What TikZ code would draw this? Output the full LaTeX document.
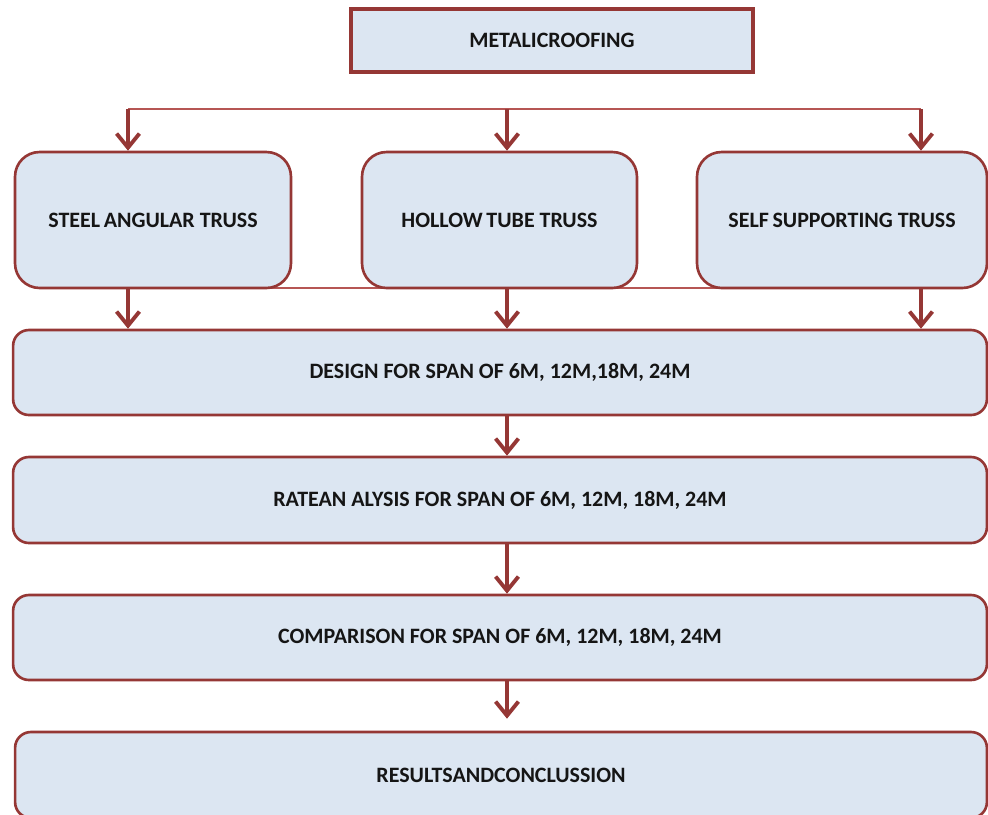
\documentclass[tikz,border=0pt]{standalone}
\usepackage{fontspec}
\setmainfont{Carlito}
\usetikzlibrary{arrows.meta}
\definecolor{boxred}{HTML}{953735}
\definecolor{busred}{HTML}{B65654}
\definecolor{boxfill}{HTML}{DCE6F2}
\definecolor{ink}{HTML}{151515}
\tikzset{
  topbox/.style={draw=boxred, fill=boxfill, line width=1.8pt, inner sep=0pt,
    text=ink, font=\fontsize{12.5}{14}\selectfont\bfseries},
  trussbox/.style={draw=boxred, fill=boxfill, line width=1.5pt, inner sep=0pt,
    rounded corners=14pt, text=ink, font=\fontsize{12.5}{14}\selectfont\bfseries},
  stepbox/.style={draw=boxred, fill=boxfill, line width=1.5pt, inner sep=0pt,
    rounded corners=9pt, text=ink, font=\fontsize{12.5}{14}\selectfont\bfseries},
  busline/.style={busred, line width=1.3pt},
  flowarrow/.style={boxred, line width=2.2pt, -{Straight Barb[length=8pt, width=13pt]}}
}

\begin{document}
\begin{tikzpicture}[x=0.02cm, y=-0.02cm]
  \useasboundingbox (0,0) rectangle (988,815);
  \clip (0,0) rectangle (988,815);

  %% columns of the arrows
  \coordinate (colL) at (128,0);
  \coordinate (colM) at (507,0);
  \coordinate (colR) at (921,0);

  %% bus lines (drawn first, boxes cover them)
  \coordinate (busTL) at (128,109);
  \coordinate (busTR) at (921,109);
  \draw[busline] (busTL) -- (busTR);
  \coordinate (busBL) at (128,288);
  \coordinate (busBR) at (921,288);
  \draw[busline] (busBL) -- (busBR);

  %% boxes
  \node[topbox, minimum width=8.04cm, minimum height=1.26cm] (roof) at (552,40.5) {METALICROOFING};

  \node[trussbox, minimum width=5.52cm, minimum height=2.72cm] (steel) at (153,220) {STEEL\,ANGULAR TRUSS};
  \node[trussbox, minimum width=5.50cm, minimum height=2.72cm] (hollow) at (499.5,220) {HOLLOW\,TUBE TRUSS};
  \node[trussbox, minimum width=5.80cm, minimum height=2.72cm] (self) at (842,220) {SELF\,SUPPORTING TRUSS};

  \node[stepbox, minimum width=19.48cm, minimum height=1.70cm] (design) at (500,372.5) {DESIGN FOR SPAN OF 6M, 12M,18M, 24M};
  \node[stepbox, minimum width=19.48cm, minimum height=1.72cm] (rate) at (500,500) {RATEAN ALYSIS FOR SPAN OF 6M, 12M, 18M, 24M};
  \node[stepbox, minimum width=19.48cm, minimum height=1.70cm] (compare) at (500,637.5) {COMPARISON FOR SPAN OF 6M, 12M, 18M, 24M};
  \node[stepbox, minimum width=19.44cm, minimum height=1.72cm] (result) at (501,775) {RESULTSANDCONCLUSSION};

  %% arrows
  \draw[flowarrow] (busTL) -- (busTL |- steel.north);
  \draw[flowarrow] (colM |- busTL) -- (colM |- hollow.north);
  \draw[flowarrow] (busTR) -- (busTR |- self.north);

  \draw[flowarrow] (colL |- steel.south) -- (colL |- design.north);
  \draw[flowarrow] (colM |- hollow.south) -- (colM |- design.north);
  \draw[flowarrow] (colR |- self.south) -- (colR |- design.north);

  \draw[flowarrow] (colM |- design.south) -- (colM |- rate.north);
  \draw[flowarrow] (colM |- rate.south) -- (colM |- compare.north);
  \draw[flowarrow] (colM |- compare.south) -- ([yshift=0.24cm]colM |- result.north);
\end{tikzpicture}
\end{document}
